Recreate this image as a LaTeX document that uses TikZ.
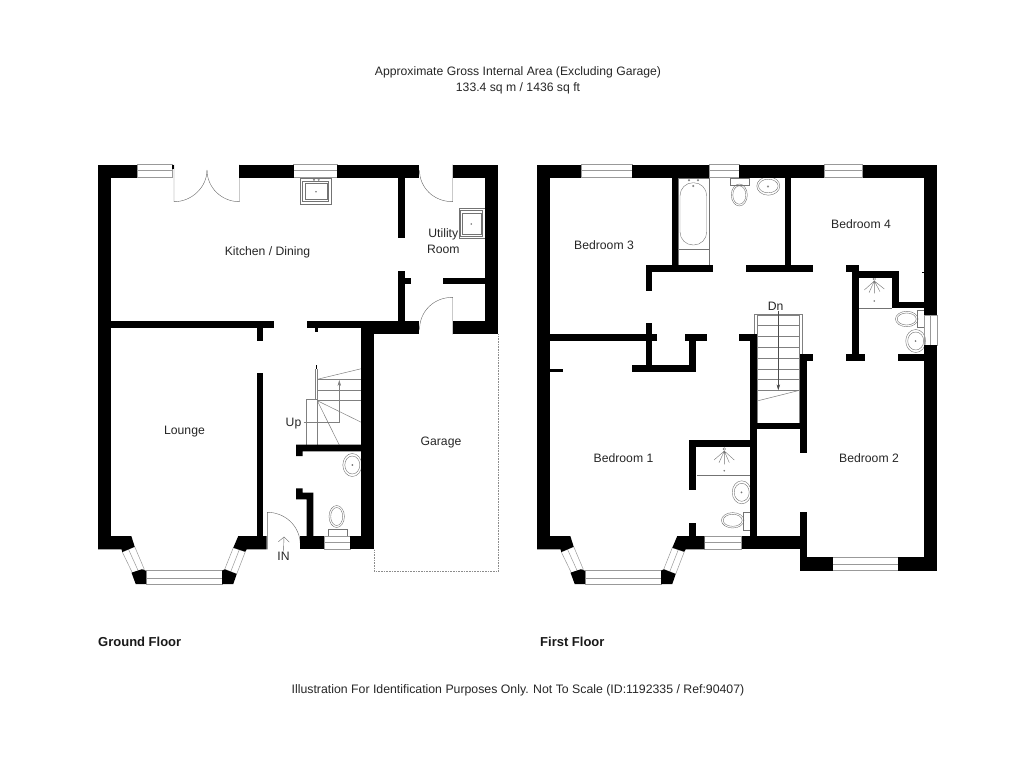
\documentclass[tikz,border=0pt]{standalone}
\usepackage{fontspec}
\setmainfont{Liberation Sans}
\usetikzlibrary{arrows.meta,calc}

\begin{document}
\begin{tikzpicture}[
    x=1pt,y=-1pt,
    wall/.style={fill=black},
    fixture/.style={draw=black!55,line width=0.4pt},
    glazing/.style={draw=black!40,line width=0.5pt},
    swing/.style={draw=black!60,line width=0.4pt},
    tread/.style={draw=black!50,line width=0.5pt},
    plot/.style={draw=black!45,line width=0.6pt,densely dotted},
    room/.style={font=\fontsize{12.2}{16}\selectfont,text=black!85,align=center,inner sep=0pt},
    floorname/.style={font=\bfseries\fontsize{13}{16}\selectfont,text=black!90,anchor=west,inner sep=0pt},
    runarrow/.style={-{Stealth[length=6pt,width=3.5pt]}},
]
    \useasboundingbox (0,0) rectangle (1024,768);

    \node[room] (title) at (518,80.5) {Approximate Gross Internal Area (Excluding Garage)\\133.4 sq m / 1436 sq ft};
    \node[room,font=\fontsize{12.3}{16}\selectfont] (note) at (518,690.5) {Illustration For Identification Purposes Only. Not To Scale (ID:1192335 / Ref:90407)};
    \node[floorname] (ground) at (98,641.5) {Ground Floor};
    \node[floorname] (first) at (540,641.5) {First Floor};

    % ground floor fittings
    \draw[fixture] (300,178.3) rectangle (331.3,204);
    \draw[fixture] (302.5,181) rectangle (328.5,201.5);
    \draw[fixture] (305,183) rectangle (327,199);
    \draw[fixture] (316,191.7) circle (0.6);
    \draw[fixture] (314,179.8) circle (0.8) (318.7,179.8) circle (0.8);
    \draw[fixture] (458.7,208.3) rectangle (484.7,238.3);
    \draw[fixture] (460.5,210.5) rectangle (482,236.5);
    \draw[fixture] (462.5,213) rectangle (480.7,234.3);
    \draw[fixture] (471.3,224) circle (0.6);
    \draw[fixture] (352.3,465) ellipse (9.5pt and 11.5pt);
    \draw[fixture] (352.3,465) ellipse (7.5pt and 9pt);
    \draw[fixture] (352.3,465) circle (0.7);
    \draw[fixture] (336.7,516.5) ellipse (7.7pt and 11pt);
    \draw[fixture] (336.7,516.5) ellipse (6pt and 9pt);
    \draw[fixture] (328,529.3) rectangle (346.7,536);

    % ground floor stairs
    \draw[tread] (306.7,445) -- (306.7,399.3) -- (317.3,399.3);
    \draw[tread] (315.3,369) -- (315.3,400) (317.3,369) -- (317.3,445);
    \draw[tread] (317.3,379.3) -- (361.3,379.3) (317.3,390) -- (361.3,390) (317.3,400.7) -- (361.3,400.7);
    \draw[tread] (317.3,379.3) -- (361.3,368.7);
    \draw[tread] (317.3,400.7) -- (361.3,422.3) (317.3,400.7) -- (339.3,445);
    \coordinate (upbend) at (339.3,422.7);
    \coordinate (uptop) at (339.3,380);
    \node[room] (up) at (293.5,423.5) {Up};
    \draw[tread,runarrow] (up.east |- upbend) ++(2,0) -- (upbend) -- (uptop);

    % ground floor doors
    \draw[swing] (174,164.5) -- (174,201.7) .. controls (192,201.7) and (207,187) .. (207,170);
    \draw[swing] (239.5,164.5) -- (239.5,201.7) .. controls (221,201.7) and (207,187) .. (207,170);
    \draw[swing] (452.7,164.5) -- (452.7,201.7) .. controls (434,201.7) and (419.5,188) .. (419.5,170);
    \draw[swing] (452.7,334.3) -- (452.7,297.3) .. controls (434,297.3) and (419.5,311) .. (419.5,330);
    \draw[swing] (267.3,549.3) -- (267.3,512.3) .. controls (285,512.3) and (300.3,526) .. (300.3,545);

    % ground floor windows
    \draw[glazing] (137.3,164.5) rectangle (172.7,177.6) (137.3,170) -- (172.7,170);
    \draw[glazing] (293.7,164.5) rectangle (337,177.6) (293.7,170) -- (337,170);
    \draw[glazing] (324,536) rectangle (350,549.3) (324,542.5) -- (350,542.5);
    \draw[glazing] (146,570.7) rectangle (222,584) (146,578) -- (222,578);
    \draw[glazing] (122.3,552) -- (134.7,546.7) -- (144.3,569.3) -- (132.3,572.7) -- cycle (128.5,549.3) -- (138.3,571);
    \draw[glazing] (233.3,547.7) -- (245.3,551.7) -- (236.7,574) -- (224.7,569.3) -- cycle (239.3,549.7) -- (230.7,571.7);

    % garage outline
    \draw[plot] (498.3,334.3) -- (498.3,571) -- (374.3,571) -- (374.3,549.3);

    % ground floor walls
    \fill[wall] (98,164.5) rectangle (137.3,177.6);
    \fill[wall] (172,164.5) rectangle (174,169);
    \fill[wall] (239.3,164.5) rectangle (293.7,177.6);
    \fill[wall] (337,164.5) rectangle (419.3,177.6);
    \fill[wall] (452.7,164.5) rectangle (498.3,177.6);
    \fill[wall] (98,164.5) rectangle (111.3,549.3);
    \fill[wall] (485,164.5) rectangle (498.3,334.3);
    \fill[wall] (398,177) rectangle (404.7,238.3);
    \fill[wall] (398,271) rectangle (404.7,322);
    \fill[wall] (404,277.7) rectangle (411.3,284.3);
    \fill[wall] (443.3,277.7) rectangle (485,284.3);
    \fill[wall] (111,321) rectangle (274.3,327.7);
    \fill[wall] (256.7,327) rectangle (263.3,340.7);
    \fill[wall] (256.7,373.3) rectangle (263.3,537);
    \fill[wall] (306.7,321) rectangle (361.5,327.7);
    \fill[wall] (315.3,327) rectangle (318,332);
    \fill[wall] (361.3,321) rectangle (419.3,334.3);
    \fill[wall] (452.7,321) rectangle (498.3,334.3);
    \fill[wall] (361.3,321) rectangle (374.3,549.3);
    \fill[wall] (316,365) rectangle (317.3,369.3);
    \fill[wall] (296,444.7) -- (361.5,444.7) -- (361.5,451.3) -- (302.7,451.3) -- (302.7,456) -- (296,456) -- cycle;
    \fill[wall] (296,488.3) -- (302.7,488.3) -- (302.7,492.7) -- (313.3,492.7) -- (313.3,536.5) -- (306.7,536.5) -- (306.7,499.3) -- (296,499.3) -- cycle;
    \fill[wall] (300.3,536) rectangle (324,549.3);
    \fill[wall] (350,536) rectangle (374.3,549.3);
    \fill[wall] (98,536) -- (111.3,536) -- (131.3,536) -- (134.7,546.7) -- (122.3,552) -- (121.5,549.3) -- (98,549.3) -- cycle;
    \fill[wall] (238.3,536) -- (266.7,536) -- (266.7,549.3) -- (246.7,549.3) -- (245.3,551.7) -- (233.3,547.7) -- cycle;
    \fill[wall] (131.5,572.7) -- (141.7,569.3) -- (146,570.7) -- (146,584) -- (135.7,584) -- cycle;
    \fill[wall] (222,570.7) -- (224.7,569.3) -- (236.7,574) -- (233.3,584) -- (222,584) -- cycle;

    % ground floor names
    \node[room] (kitchen) at (267.5,252.5) {Kitchen / Dining};
    \node[room] (utility) at (443.3,241.5) {Utility\\Room};
    \node[room] (lounge) at (184.5,431.5) {Lounge};
    \node[room] (garage) at (441,442.5) {Garage};
    \node[room] (in) at (283.5,556) {IN};
    \coordinate (entry) at (284,536.7);
    \draw[swing,-{Straight Barb[length=5pt,width=11pt]}] (in.north) -- (entry);

    % first floor fittings
    \draw[fixture] (678,177.7) rectangle (708.7,265) (678,249.3) -- (708.7,249.3);
    \draw[fixture,rounded corners=13pt] (680,182.7) rectangle (706.7,245);
    \draw[fixture] (693.3,186) circle (0.8);
    \draw[fixture] (689,180.2) circle (0.8) (698,180.2) circle (0.8);
    \draw[fixture] (730.3,177.7) rectangle (749,185);
    \draw[fixture] (739.3,195) ellipse (8pt and 11pt);
    \draw[fixture] (739.3,195) ellipse (6.5pt and 9.2pt);
    \draw[fixture] (768.3,186) ellipse (11.5pt and 9.2pt);
    \draw[fixture] (768.3,186) ellipse (9.8pt and 6.8pt);
    \draw[fixture] (768,186.5) circle (0.8);
    \draw[fixture] (859,308.3) -- (892.3,308.3);
    \draw[fixture] (874.3,279) circle (1.3);
    \draw[fixture] (874.3,281) -- (864.3,290) (874.3,281) -- (869,292.7) (874.3,281) -- (874.3,293.3) (874.3,281) -- (880,291.7) (874.3,281) -- (884.3,289);
    \draw[fixture] (874.3,301) circle (0.6);
    \draw[fixture] (917,310) rectangle (924,327.3);
    \draw[fixture] (906.7,319) ellipse (11.3pt and 7.7pt);
    \draw[fixture] (906.7,319) ellipse (9.5pt and 6pt);
    \draw[fixture] (915.7,341) ellipse (10pt and 11.5pt);
    \draw[fixture] (915.7,341) ellipse (8pt and 9pt);
    \draw[fixture] (915.5,341) circle (0.7);
    \draw[fixture] (696.7,475) -- (750,475);
    \draw[fixture] (724.3,449) circle (1.3);
    \draw[fixture] (724.3,451) -- (714,460) (724.3,451) -- (719,462.7) (724.3,451) -- (724.3,464.3) (724.3,451) -- (729.3,462.7) (724.3,451) -- (734.3,460);
    \draw[fixture] (724.3,470.7) circle (0.6);
    \draw[fixture] (741.7,492.3) ellipse (9.5pt and 11.5pt);
    \draw[fixture] (741.7,492.3) ellipse (7.5pt and 9pt);
    \draw[fixture] (741.5,492.3) circle (0.7);
    \draw[fixture] (743.3,512.3) rectangle (750,530);
    \draw[fixture] (732.7,520.3) ellipse (11.3pt and 7.7pt);
    \draw[fixture] (732.7,520.3) ellipse (9.5pt and 6pt);

    % first floor stairs
    \draw[tread] (754.3,340) -- (754.3,314) -- (802.3,314) -- (802.3,356);
    \draw[tread] (757,315) -- (757,422.7) (799.7,315) -- (799.7,422.7);
    \draw[tread] (757,315) -- (799.7,315) (757,325.7) -- (799.7,325.7) (757,336.3) -- (799.7,336.3) (757,347) -- (799.7,347);
    \draw[tread] (757,358.3) -- (799.7,358.3) (757,369) -- (799.7,369) (757,379.7) -- (799.7,379.7) (757,390.3) -- (799.7,390.3);
    \draw[tread] (757,401) -- (799.7,390.3);
    \node[room] (down) at (775.7,306.5) {Dn};
    \coordinate (downend) at (778.3,390.3);
    \draw[draw=black!70,line width=0.5pt,runarrow] (down.south -| downend) -- (downend);

    % first floor windows
    \draw[glazing] (581,164.5) rectangle (632.3,177.6) (581,170) -- (632.3,170);
    \draw[glazing] (709,164.5) rectangle (739,177.6) (709,170) -- (739,170);
    \draw[glazing] (824,164.5) rectangle (862.7,177.6) (824,170) -- (862.7,170);
    \draw[glazing] (924,315) rectangle (937,345) (930,315) -- (930,345);
    \draw[glazing] (704.3,536) rectangle (741.7,549.3) (704.3,542.5) -- (741.7,542.5);
    \draw[glazing] (832.7,557.3) rectangle (898,570.7) (832.7,564) -- (898,564);
    \draw[glazing] (585,570.7) rectangle (661,584) (585,578) -- (661,578);
    \draw[glazing] (561.3,552) -- (573.7,546.7) -- (583.3,569.3) -- (571.3,572.7) -- cycle (567.5,549.3) -- (577.3,571);
    \draw[glazing] (672.3,547.7) -- (684.3,551.7) -- (675.7,574) -- (663.7,569.3) -- cycle (678.3,549.7) -- (669.7,571.7);

    % first floor walls
    \fill[wall] (537,164.5) rectangle (581,177.6);
    \fill[wall] (632.3,164.5) rectangle (709,177.6);
    \fill[wall] (739,164.5) rectangle (824,177.6);
    \fill[wall] (862.7,164.5) rectangle (937,177.6);
    \fill[wall] (537,164.5) rectangle (550.3,549.3);
    \fill[wall] (924,164.5) rectangle (937,315);
    \fill[wall] (924,345) rectangle (937,570.7);
    \fill[wall] (671.7,177) rectangle (678.3,265.5);
    \fill[wall] (645.7,265) rectangle (713,271.7);
    \fill[wall] (645.7,265) rectangle (652.3,291);
    \fill[wall] (784.7,177) rectangle (791.3,265.5);
    \fill[wall] (745.7,265) rectangle (813.3,271.7);
    \fill[wall] (845.7,265) rectangle (858.7,271.7);
    \fill[wall] (852,271) rectangle (899.3,278.3);
    \fill[wall] (852,271) rectangle (858.7,354.5);
    \fill[wall] (845.7,354) rectangle (865.3,360.7);
    \fill[wall] (892,278) rectangle (898.7,302);
    \fill[wall] (892,301.7) rectangle (924.5,308.3);
    \fill[wall] (921.7,271.7) rectangle (924.5,273.3);
    \fill[wall] (898,354) rectangle (924.5,360.7);
    \fill[wall] (550,334) rectangle (656.7,340.7);
    \fill[wall] (645.7,323.3) rectangle (652.3,371.7);
    \fill[wall] (632.3,365) rectangle (695.7,371.7);
    \fill[wall] (689,334) rectangle (695.7,371.7);
    \fill[wall] (685,334) rectangle (706.7,340.7);
    \fill[wall] (550,369) rectangle (563.3,371.7);
    \fill[wall] (739,334) rectangle (756.7,340.7);
    \fill[wall] (750,334) rectangle (756.7,537);
    \fill[wall] (800,354) rectangle (813.3,360.7);
    \fill[wall] (800,354) rectangle (806.7,453.3);
    \fill[wall] (756,422.7) rectangle (800.5,429.3);
    \fill[wall] (689.3,440) rectangle (750.5,446.7);
    \fill[wall] (689.3,440) rectangle (696,490);
    \fill[wall] (689.3,523.3) rectangle (696,536.5);
    \fill[wall] (741.7,536) rectangle (800,549.3);
    \fill[wall] (800,512.3) rectangle (806.7,570.7);
    \fill[wall] (800,557.3) rectangle (832.7,570.7);
    \fill[wall] (898,557.3) rectangle (937,570.7);
    \fill[wall] (537,536) -- (570.3,536) -- (573.7,546.7) -- (561.3,552) -- (560.5,549.3) -- (537,549.3) -- cycle;
    \fill[wall] (677.3,536) -- (704.3,536) -- (704.3,549.3) -- (685.7,549.3) -- (684.3,551.7) -- (672.3,547.7) -- cycle;
    \fill[wall] (570.5,572.7) -- (580.7,569.3) -- (585,570.7) -- (585,584) -- (574.7,584) -- cycle;
    \fill[wall] (661,570.7) -- (663.7,569.3) -- (675.7,574) -- (672.3,584) -- (661,584) -- cycle;

    % first floor names
    \node[room] (bedthree) at (604,245.5) {Bedroom 3};
    \node[room] (bedfour) at (861,224.5) {Bedroom 4};
    \node[room] (bedone) at (623.5,458.5) {Bedroom 1};
    \node[room] (bedtwo) at (869,458.5) {Bedroom 2};
\end{tikzpicture}
\end{document}
